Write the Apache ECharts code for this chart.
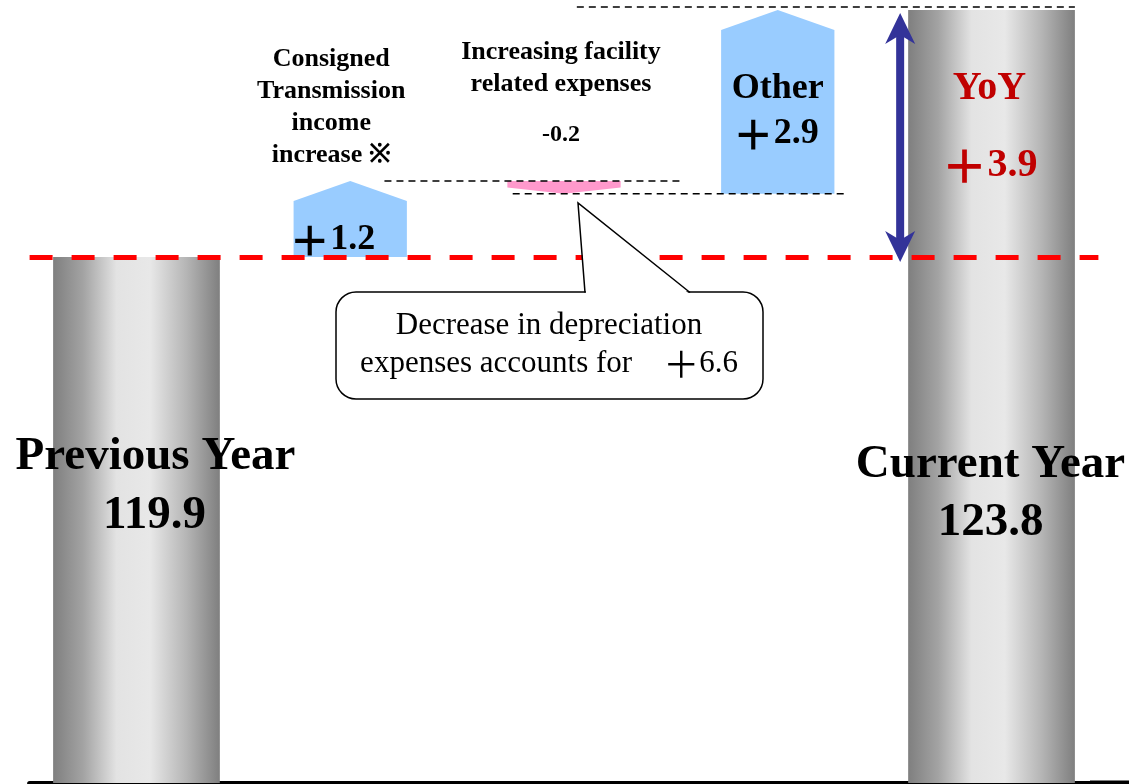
<!DOCTYPE html>
<html>
<head>
<meta charset="utf-8">
<script src="https://cdn.jsdelivr.net/npm/echarts@6/dist/echarts.min.js"></script>
<style>
html,body{margin:0;padding:0;background:#ffffff;}
#chart{width:1129px;height:784px;}
</style>
</head>
<body>
<div id="chart"></div>
<script>
// ---- data ----
const categories = ['Previous Year', 'Consigned Transmission income increase ※', 'Increasing facility related expenses', 'Other', 'Current Year'];
const titleLines = ['Previous Year', 'Consigned\nTransmission\nincome\nincrease ※', 'Increasing facility\nrelated expenses', 'Other', 'Current Year'];
const values = [119.9, 1.2, -0.2, 2.9, 123.8];
const kinds = ['total', 'delta', 'delta', 'delta', 'total'];
const valueLabels = ['119.9', '＋1.2', '-0.2', '＋2.9', '123.8'];
const yoyLabels = ['YoY', '＋3.9'];
const calloutLines = ['Decrease in depreciation', 'expenses accounts for　＋6.6'];
const yMin = 111.6;
const yMax = 123.8;

// ---- build waterfall items from the values ----
let running = 0;
const items = values.map(function (v, i) {
  if (kinds[i] === 'total') {
    running = v;
    return [i, yMin, v, 0];
  }
  const base = running;
  running = Math.round((running + v) * 10) / 10;
  return [i, base, running, 1];
});

// ---- styles ----
const SERIF = '"Liberation Serif", "Times New Roman", serif';
const CJK = '"Noto Sans CJK JP", "Noto Sans CJK SC", sans-serif';
const grayGrad = new echarts.graphic.LinearGradient(0, 0, 1, 0, [
  { offset: 0, color: '#7f7f7f' },
  { offset: 0.18, color: '#a3a3a3' },
  { offset: 0.38, color: '#e3e3e3' },
  { offset: 0.58, color: '#e8e8e8' },
  { offset: 0.8, color: '#b5b5b5' },
  { offset: 1, color: '#7f7f7f' }
]);
// connector extents in band fractions: [start offset from own centre, end offset from next centre]
const connectorStyle = { 1: [0.16, 0.54], 2: [-0.24, 0.33], 3: [-0.94, 0.39] };

function plusRich(text, size, color, weight) {
  // full-width plus drawn a little larger, as in the source slide
  if (text.indexOf('＋') === -1) return { text: text, rich: undefined };
  const parts = text.split('＋');
  return {
    text: parts[0] + '{p|＋}' + parts.slice(1).join('＋'),
    rich: { p: { fontFamily: CJK, fontSize: Math.round(size * 1.15), fontWeight: weight, fill: color } }
  };
}

function txt(x, y, text, size, color, vAlign, lineHeight, weight) {
  const w = weight || 'bold';
  const c = color || '#000';
  const r = plusRich(text, size, c, w);
  const style = {
    x: x, y: y, text: r.text, fill: c,
    fontFamily: SERIF, fontSize: size, fontWeight: w,
    align: 'center', verticalAlign: vAlign || 'middle',
    lineHeight: lineHeight || size
  };
  if (r.rich) style.rich = r.rich;
  return { type: 'text', z2: 20, style: style };
}

function renderItem(params, api) {
  const i = api.value(0);
  const lo = api.value(1);
  const hi = api.value(2);
  const isDelta = api.value(3) === 1;
  const band = api.size([1, 0])[0];
  const cs = params.coordSys;
  const xc = api.coord([i, hi])[0];
  const children = [];

  if (!isDelta) {
    const w = band * 0.78;
    const yt = api.coord([i, hi])[1];
    const yb = cs.y + cs.height;
    children.push({ type: 'rect', shape: { x: xc - w / 2, y: yt, width: w, height: yb - yt }, style: { fill: grayGrad } });
    if (i === 0) {
      children.push(txt(xc + 19, 457, titleLines[i], 47));
      children.push(txt(xc + 18, 516, valueLabels[i], 47));
    } else {
      children.push(txt(xc - 2, 89, yoyLabels[0], 40, '#c00000'));
      children.push(txt(xc - 2, 166, yoyLabels[1], 40, '#c00000'));
      children.push(txt(xc - 1, 465, titleLines[i], 47));
      children.push(txt(xc - 1, 523, valueLabels[i], 47));
      // YoY double arrow from previous total to current total
      const ax = xc - w / 2 - 8;
      const ya = api.coord([i, hi])[1] + 3;
      const yb2 = api.coord([i, values[0]])[1] + 5;
      const col = '#333399';
      children.push({ type: 'rect', z2: 5, shape: { x: ax - 4, y: ya + 20, width: 8, height: yb2 - ya - 40 }, style: { fill: col } });
      children.push({ type: 'polygon', z2: 5, shape: { points: [[ax, ya], [ax + 15, ya + 31], [ax, ya + 22], [ax - 15, ya + 31]] }, style: { fill: col } });
      children.push({ type: 'polygon', z2: 5, shape: { points: [[ax, yb2], [ax + 15, yb2 - 31], [ax, yb2 - 22], [ax - 15, yb2 - 31]] }, style: { fill: col } });
    }
  } else {
    const w = band * 0.53;
    const xl = xc - w / 2, xr = xc + w / 2;
    const y1 = api.coord([i, lo])[1];
    const y2 = api.coord([i, hi])[1];
    if (hi >= lo) {
      const p = 20;
      children.push({ type: 'polygon', shape: { points: [[xl, y1], [xl, y2 + p], [xc, y2], [xr, y2 + p], [xr, y1]] }, style: { fill: '#99ccff' } });
    } else {
      const q = Math.min(7, (y2 - y1) / 2);
      children.push({ type: 'polygon', shape: { points: [[xl, y1], [xr, y1], [xr, y2 - q], [xc, y2], [xl, y2 - q]] }, style: { fill: '#ff99cc' } });
    }
    // connector to next column
    const cfg = connectorStyle[i];
    const xn = api.coord([i + 1, hi])[0];
    const yl = y2 - (i === 3 ? 3 : 0);
    children.push({
      type: 'line', z2: 10,
      shape: { x1: xc + cfg[0] * band, y1: yl, x2: xn + cfg[1] * band, y2: yl },
      style: { stroke: '#000', lineWidth: 1.5, lineDash: [7, 5] }
    });
    if (i === 1) {
      children.push(txt(xc - 19, 43, titleLines[i], 26, '#000', 'top', 32));
      children.push(txt(xc - 18, 240, valueLabels[i], 36));
    } else if (i === 2) {
      children.push(txt(xc - 3, 36, titleLines[i], 26, '#000', 'top', 32));
      children.push(txt(xc - 3, 135, valueLabels[i], 24));
    } else {
      children.push(txt(xc, 89, titleLines[i], 36));
      children.push(txt(xc - 2, 134, valueLabels[i], 36));
    }
  }
  return { type: 'group', children: children };
}

const chart = echarts.init(document.getElementById('chart'), null, { renderer: 'canvas' });
const callout = plusRich(calloutLines.join('\n'), 31, '#000', 'normal');
chart.setOption({
  animation: false,
  backgroundColor: '#ffffff',
  grid: { left: 29.6, right: 30.6, top: 10, bottom: 1, outerBoundsMode: 'none' },
  xAxis: {
    type: 'category', data: categories,
    axisLine: { show: true, lineStyle: { color: '#000', width: 5 } },
    axisTick: { show: false }, axisLabel: { show: false }, splitLine: { show: false }
  },
  yAxis: { type: 'value', min: yMin, max: yMax, show: false },
  series: [
    { type: 'custom', renderItem: renderItem, data: items, encode: { x: 0, y: [1, 2] }, z: 2, silent: true },
    {
      type: 'line', data: [], z: 5, silent: true,
      markLine: {
        silent: true, symbol: 'none', label: { show: false }, animation: false,
        lineStyle: { color: '#ff0000', width: 5, type: [23, 19] },
        data: [{ yAxis: values[0] }]
      }
    }
  ],
  graphic: [
    { type: 'rect', z: 1, shape: { x: 1090, y: 780.5, width: 39, height: 5 }, style: { fill: '#000' } },
    { type: 'rect', z: 100, shape: { x: 336, y: 292, width: 427, height: 107, r: 20 }, style: { fill: '#fff', stroke: '#000', lineWidth: 1.5 } },
    { type: 'polygon', z: 101, shape: { points: [[586, 293.5], [578, 204], [689, 293.5]] }, style: { fill: '#fff' } },
    { type: 'polyline', z: 102, shape: { points: [[585, 292.5], [578, 203], [690, 292.5]] }, style: { stroke: '#000', lineWidth: 1.5, fill: null } },
    {
      type: 'text', z: 103,
      style: {
        x: 549, y: 307, text: callout.text, rich: callout.rich, fill: '#000',
        fontFamily: SERIF, fontSize: 31, fontWeight: 'normal',
        align: 'center', verticalAlign: 'top', lineHeight: 38
      }
    }
  ]
});
</script>
</body>
</html>
